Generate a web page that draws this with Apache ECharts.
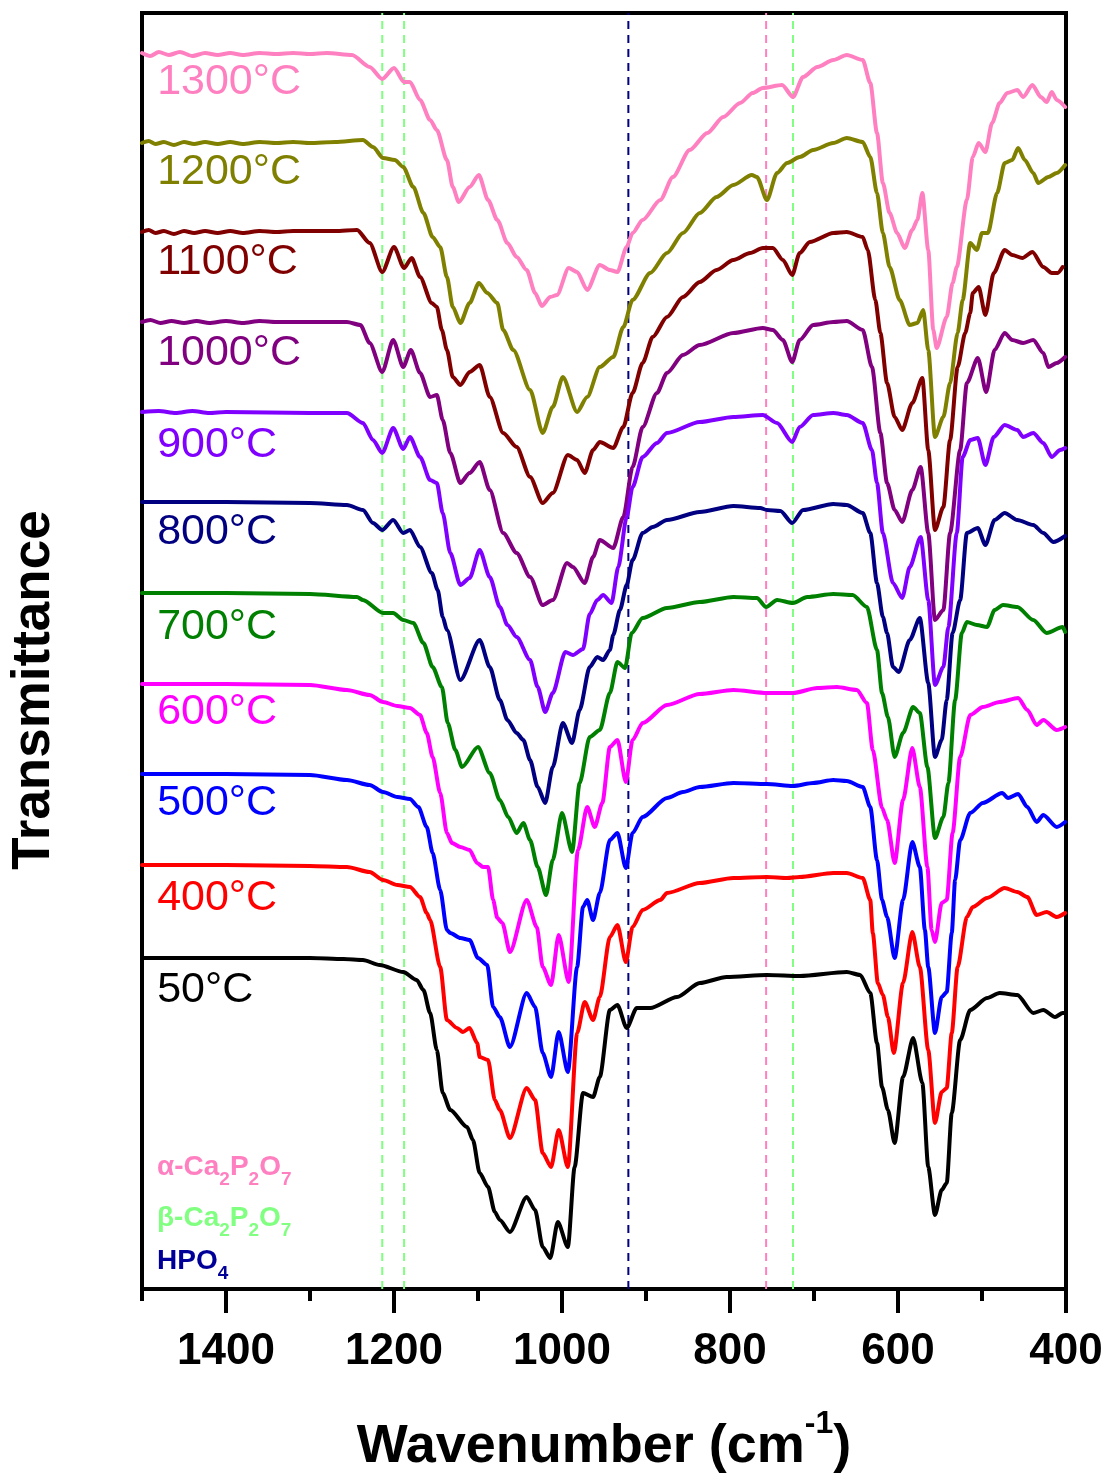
<!DOCTYPE html>
<html><head><meta charset="utf-8">
<script src="https://cdn.jsdelivr.net/npm/echarts@6/dist/echarts.min.js"></script>
<style>html,body{margin:0;padding:0;background:#fff}#c{width:1110px;height:1483px}</style>
</head><body><div id="c"></div>
<script>
// Transmittance (offset, arbitrary units) vs wavenumber (cm-1)
const s1300 = [[1500,1236],[1490,1233],[1480,1237],[1468,1234],[1455,1237],[1440,1233],[1425,1236],[1410,1234],[1395,1236],[1380,1234],[1360,1236],[1340,1235],[1320,1236],[1300,1235],[1280,1236],[1250,1234],[1229,1222],[1214,1210],[1200,1221],[1188,1207],[1181,1207],[1169,1189],[1157,1169],[1149,1159],[1137,1129],[1130,1102],[1123,1087],[1110,1102],[1099,1114],[1088,1089],[1077,1069],[1065,1046],[1054,1032],[1042,1019],[1032,996],[1024,983],[1014,992],[1006,994],[992,1021],[982,1017],[970,999],[955,1024],[943,1019],[934,1017],[923,1042],[916,1056],[904,1069],[883,1089],[868,1112],[848,1139],[827,1156],[808,1172],[788,1186],[773,1196],[761,1201],[738,1204],[725,1192],[713,1212],[696,1222],[677,1229],[661,1234],[642,1229],[633,1206],[625,1156],[618,1106],[610,1076],[601,1056],[592,1041],[583,1059],[577,1069],[571,1096],[564,1039],[558,959],[554,941],[542,972],[535,1006],[530,1022],[518,1089],[511,1132],[504,1146],[496,1137],[488,1166],[479,1186],[470,1196],[458,1199],[451,1192],[440,1204],[430,1192],[423,1187],[417,1197],[411,1189],[401,1182]];
const s1200 = [[1500,1146],[1492,1148],[1484,1145],[1474,1147],[1462,1144],[1450,1147],[1438,1145],[1425,1147],[1410,1145],[1395,1147],[1380,1145],[1360,1147],[1340,1146],[1320,1147],[1300,1146],[1270,1147],[1237,1149],[1225,1142],[1213,1131],[1199,1129],[1189,1122],[1177,1102],[1165,1076],[1154,1052],[1145,1042],[1137,1012],[1130,982],[1121,966],[1110,986],[1099,1006],[1089,996],[1077,986],[1070,959],[1058,939],[1038,899],[1023,856],[1011,882],[999,912],[982,877],[970,892],[955,922],[939,932],[927,962],[916,989],[895,1016],[875,1036],[856,1056],[836,1076],[816,1092],[796,1104],[774,1114],[768,1112],[756,1089],[744,1116],[732,1126],[717,1132],[701,1139],[677,1146],[661,1151],[642,1147],[633,1132],[625,1096],[618,1056],[610,1022],[598,989],[586,964],[577,966],[570,979],[564,939],[556,852],[546,872],[538,906],[529,956],[523,989],[514,1046],[506,1039],[500,1056],[493,1056],[482,1096],[473,1126],[464,1129],[457,1141],[449,1129],[439,1116],[433,1106],[421,1112],[411,1116],[401,1124]];
const s1100 = [[1500,1057],[1492,1059],[1484,1056],[1474,1058],[1462,1055],[1450,1058],[1438,1056],[1425,1058],[1410,1056],[1395,1058],[1380,1056],[1360,1058],[1340,1057],[1320,1058],[1300,1058],[1270,1058],[1244,1059],[1229,1046],[1214,1017],[1200,1042],[1188,1021],[1179,1031],[1169,1012],[1155,986],[1149,982],[1143,959],[1137,939],[1130,912],[1121,904],[1110,917],[1098,924],[1086,892],[1070,856],[1054,842],[1038,812],[1023,786],[1011,796],[993,834],[982,829],[973,816],[963,839],[955,847],[939,841],[927,862],[916,896],[904,926],[892,952],[875,972],[856,992],[836,1007],[816,1019],[796,1029],[776,1036],[761,1041],[749,1041],[737,1029],[726,1014],[717,1036],[705,1047],[677,1056],[661,1057],[642,1052],[636,1039],[627,989],[621,956],[613,906],[604,872],[595,859],[583,886],[571,911],[564,839],[556,759],[546,782],[538,849],[529,922],[520,956],[514,976],[511,996],[504,1002],[496,974],[486,1016],[473,1039],[464,1034],[452,1031],[440,1037],[427,1022],[417,1016],[410,1016],[404,1022]];
const s1000 = [[1500,967],[1490,969],[1478,966],[1465,968],[1450,966],[1435,968],[1420,966],[1400,968],[1380,966],[1360,968],[1340,967],[1300,967],[1256,967],[1240,964],[1229,946],[1214,917],[1201,949],[1189,922],[1180,939],[1169,916],[1157,892],[1149,894],[1142,869],[1133,836],[1121,806],[1110,816],[1098,827],[1086,799],[1070,756],[1054,736],[1038,712],[1023,684],[1011,689],[994,726],[987,722],[973,706],[963,732],[955,749],[939,741],[927,772],[916,822],[904,862],[887,896],[875,916],[856,934],[836,944],[796,956],[761,961],[749,959],[737,949],[726,927],[717,949],[701,964],[677,967],[661,968],[642,959],[631,922],[621,856],[613,806],[604,779],[595,767],[583,799],[573,822],[564,756],[556,669],[546,679],[538,756],[526,839],[518,906],[505,931],[495,897],[485,939],[473,956],[464,949],[451,946],[439,949],[427,936],[421,922],[411,926],[401,932]];
const s900 = [[1500,877],[1480,878],[1460,876],[1440,878],[1420,876],[1400,877],[1300,876],[1256,876],[1237,866],[1225,849],[1214,836],[1201,861],[1189,840],[1181,852],[1169,832],[1157,809],[1149,806],[1142,776],[1133,736],[1121,704],[1110,711],[1098,739],[1086,712],[1074,682],[1065,664],[1054,652],[1038,629],[1029,602],[1020,577],[1011,596],[996,637],[987,634],[975,640],[967,675],[958,689],[951,694],[941,686],[933,722],[923,772],[916,802],[904,832],[887,846],[875,856],[836,867],[796,872],[761,874],[744,866],[726,847],[717,862],[701,874],[677,876],[661,874],[642,866],[631,839],[625,806],[618,756],[606,706],[595,691],[586,722],[573,752],[564,689],[556,604],[546,622],[540,662],[530,756],[523,832],[514,849],[505,851],[496,824],[486,852],[473,864],[458,859],[451,852],[439,856],[427,846],[417,832],[407,839],[401,841]];
const s800 = [[1500,787],[1400,787],[1300,786],[1256,784],[1237,779],[1225,766],[1214,759],[1201,769],[1189,756],[1181,759],[1169,742],[1155,716],[1148,699],[1142,672],[1137,659],[1121,609],[1098,649],[1086,622],[1074,589],[1065,569],[1054,556],[1046,549],[1038,529],[1029,502],[1020,486],[1011,522],[999,566],[988,546],[979,579],[967,622],[958,632],[951,629],[943,639],[939,654],[931,679],[923,704],[916,729],[904,756],[892,762],[875,769],[836,777],[796,783],[764,781],[756,779],[740,778],[726,766],[713,779],[677,785],[661,784],[642,776],[633,756],[625,706],[618,672],[613,656],[606,622],[599,617],[586,649],[574,671],[564,606],[556,532],[548,549],[542,589],[535,656],[526,689],[518,756],[505,761],[496,744],[485,769],[473,776],[458,769],[439,764],[427,756],[415,747],[401,753]];
const s700 = [[1500,696],[1400,696],[1300,695],[1244,692],[1237,689],[1213,676],[1201,676],[1189,669],[1177,666],[1165,646],[1154,622],[1143,602],[1136,566],[1127,539],[1119,522],[1100,542],[1086,516],[1074,489],[1064,472],[1054,456],[1046,466],[1038,449],[1029,422],[1019,394],[1011,429],[1000,476],[988,437],[979,506],[967,552],[955,559],[943,596],[934,627],[925,621],[917,656],[904,671],[875,681],[836,687],[796,692],[768,691],[757,682],[744,689],[725,686],[708,692],[677,695],[654,694],[637,682],[625,639],[619,596],[612,572],[604,532],[594,556],[582,582],[574,576],[565,522],[556,451],[546,472],[540,506],[532,589],[524,656],[518,667],[506,664],[494,662],[485,679],[475,684],[458,682],[439,669],[423,656],[404,662],[401,657]];
const s600 = [[1500,605],[1400,605],[1300,604],[1256,599],[1229,594],[1213,587],[1196,583],[1181,581],[1169,574],[1161,556],[1154,532],[1145,496],[1137,456],[1131,446],[1121,442],[1110,439],[1101,426],[1094,422],[1088,422],[1082,389],[1077,371],[1071,366],[1062,337],[1042,389],[1030,362],[1023,322],[1013,304],[1004,354],[992,307],[981,439],[970,482],[961,462],[952,486],[943,542],[934,549],[924,507],[916,549],[904,566],[875,584],[836,595],[796,599],[756,596],[725,596],[696,601],[673,602],[649,599],[637,586],[630,539],[619,481],[613,469],[604,426],[594,489],[583,541],[574,502],[565,422],[560,359],[556,347],[548,386],[542,389],[535,456],[526,532],[514,574],[499,582],[479,587],[457,591],[446,579],[435,564],[427,569],[411,559],[401,562]];
const s500 = [[1500,515],[1400,515],[1300,514],[1256,509],[1229,504],[1213,497],[1196,492],[1181,490],[1171,482],[1161,462],[1154,436],[1145,399],[1137,359],[1133,356],[1121,351],[1110,349],[1100,331],[1089,324],[1082,282],[1074,272],[1062,242],[1042,296],[1032,282],[1023,236],[1013,212],[1004,257],[993,217],[982,322],[975,382],[970,389],[963,369],[955,396],[943,449],[934,456],[924,421],[916,456],[904,472],[875,491],[856,497],[836,502],[796,506],[756,505],[725,503],[701,506],[677,509],[661,508],[642,502],[633,482],[625,429],[619,389],[613,372],[604,331],[594,389],[583,447],[574,422],[568,359],[564,322],[556,256],[548,292],[542,297],[536,356],[532,409],[526,449],[514,476],[499,486],[476,496],[469,491],[457,495],[446,482],[435,467],[427,474],[411,462],[401,467]];
const s400 = [[1500,424],[1400,424],[1300,423],[1256,422],[1229,417],[1213,409],[1196,404],[1181,402],[1169,392],[1161,376],[1157,369],[1145,322],[1137,269],[1125,261],[1118,257],[1110,261],[1101,246],[1098,232],[1088,229],[1080,189],[1074,179],[1062,151],[1042,201],[1032,189],[1023,136],[1013,122],[1004,159],[993,122],[982,256],[973,287],[963,269],[955,292],[943,352],[934,364],[924,327],[916,362],[904,379],[883,389],[875,396],[836,406],[796,411],[756,412],[732,411],[717,412],[677,416],[661,416],[642,411],[633,389],[630,356],[624,306],[618,294],[612,272],[605,236],[594,306],[583,357],[574,322],[564,239],[556,166],[548,197],[542,201],[536,256],[529,322],[518,372],[511,382],[494,391],[473,401],[458,397],[446,392],[435,374],[423,377],[411,372],[401,376]];
const s50 = [[1500,331],[1400,331],[1300,331],[1260,330],[1237,329],[1217,324],[1189,317],[1173,309],[1165,299],[1157,276],[1149,239],[1142,196],[1133,179],[1113,162],[1106,149],[1098,116],[1088,102],[1080,77],[1074,69],[1062,57],[1042,92],[1032,79],[1023,42],[1014,31],[1005,67],[993,42],[985,122],[975,196],[963,192],[955,212],[943,279],[934,284],[923,261],[911,281],[895,281],[863,292],[836,306],[804,312],[756,314],[717,313],[661,317],[645,314],[633,296],[625,246],[619,202],[612,179],[604,146],[594,212],[582,251],[571,206],[564,122],[556,74],[548,99],[542,106],[536,176],[526,249],[514,279],[494,291],[479,296],[458,294],[439,276],[427,279],[413,272],[404,276],[400,276]];

const seriesNames = ['1300°C','1200°C','1100°C','1000°C','900°C','800°C','700°C','600°C','500°C','400°C','50°C'];
const seriesColors = ['#ff80c0','#808000','#800000','#800080','#8000ff','#000080','#008000','#ff00ff','#0000ff','#ff0000','#000000'];
const labelWavenumber = 1482;
const labelLevels = [1207,1117,1027,936,844,757,662,577,486,391,299];
const markerWavenumbers = [1214, 1188, 921, 757, 725];
const markerColors = ['#80ff80','#80ff80','#000080','#ff80c0','#80ff80'];
const majorTicks = [1400,1200,1000,800,600,400];
const minorTicks = [1500,1300,1100,900,700,500];
const yMax = 1276;

const spectra = [s1300,s1200,s1100,s1000,s900,s800,s700,s600,s500,s400,s50];
const FONT = '"Liberation Sans", Arial, sans-serif';

const chart = echarts.init(document.getElementById('c'), null, {renderer:'canvas'});
const series = [];
markerWavenumbers.forEach((w,i)=>{
  series.push({type:'line', data:[[w,0],[w,yMax]], showSymbol:false, symbol:'none', silent:true,
    lineStyle:{color:markerColors[i], width:2, type:[8,6]}, xAxisIndex:0, yAxisIndex:0});
});
spectra.forEach((d,i)=>{
  series.push({type:'line', name:seriesNames[i], data:d, showSymbol:false, symbol:'none', silent:true,
    smooth:0.25, smoothMonotone:'x',
    lineStyle:{color:seriesColors[i], width:4, join:'round', cap:'round'}, xAxisIndex:0, yAxisIndex:0});
});
series.push({type:'scatter', silent:true, symbolSize:0.01, itemStyle:{color:'rgba(0,0,0,0)', opacity:1},
  data: labelLevels.map((y,i)=>({value:[labelWavenumber,y], label:{color:seriesColors[i]}})),
  label:{show:true, position:'right', distance:0, formatter:p=>seriesNames[p.dataIndex], opacity:1,
    fontSize:43, fontFamily:FONT, fontWeight:'normal', align:'left', verticalAlign:'middle'},
  xAxisIndex:0, yAxisIndex:0});

const subRich = (color)=>({
  a:{fontSize:28, fontWeight:'bold', fontFamily:FONT, fill:color, lineHeight:45},
  s:{fontSize:19, fontWeight:'bold', fontFamily:FONT, fill:color, lineHeight:18, verticalAlign:'bottom'}
});

chart.setOption({
  animation:false,
  backgroundColor:'#fff',
  grid:[
    {left:142, right:44, top:13, bottom:194, show:true, borderColor:'#000', borderWidth:4, backgroundColor:'rgba(0,0,0,0)'},
    {left:142, right:44, top:13, bottom:194, show:false}
  ],
  xAxis:[
    {type:'value', gridIndex:0, min:400, max:1500, interval:100, inverse:true, position:'bottom',
      axisLine:{show:true, onZero:false, lineStyle:{color:'#000', width:4}},
      axisTick:{show:true, inside:false, length:24, customValues:majorTicks, lineStyle:{color:'#000', width:4}},
      axisLabel:{show:true, customValues:majorTicks, margin:41, fontSize:44, fontWeight:'bold', fontFamily:FONT, color:'#000',
        formatter:v=>String(v)},
      splitLine:{show:false}, minorTick:{show:false}},
    {type:'value', gridIndex:1, min:400, max:1500, interval:100, inverse:true, position:'bottom',
      axisLine:{show:false, onZero:false},
      axisTick:{show:true, inside:false, length:12, customValues:minorTicks, lineStyle:{color:'#000', width:4}},
      axisLabel:{show:false}, splitLine:{show:false}}
  ],
  yAxis:[
    {type:'value', gridIndex:0, min:0, max:yMax, axisLine:{show:true, lineStyle:{color:'#000', width:4}},
      axisTick:{show:false}, axisLabel:{show:false}, splitLine:{show:false}},
    {type:'value', gridIndex:1, min:0, max:yMax, show:false}
  ],
  series: series,
  graphic:[
    {type:'text', x:34, y:690, rotation:Math.PI/2, silent:true,
      style:{text:'Transmittance', font:'bold 53px '+FONT, fill:'#000', align:'center', verticalAlign:'middle'}},
    {type:'text', x:604, y:1447, silent:true,
      style:{text:'{a|Wavenumber (cm}{s|-1}{a|)}', align:'center', verticalAlign:'middle',
        rich:{a:{fontSize:54, fontWeight:'bold', fontFamily:FONT, fill:'#000', lineHeight:78},
              s:{fontSize:32, fontWeight:'bold', fontFamily:FONT, fill:'#000', lineHeight:32, verticalAlign:'top'}}}},
    {type:'text', x:157, y:1167, silent:true,
      style:{text:'{a|α-Ca}{s|2}{a|P}{s|2}{a|O}{s|7}', align:'left', verticalAlign:'middle', rich:subRich('#ff80c0')}},
    {type:'text', x:157, y:1218, silent:true,
      style:{text:'{a|β-Ca}{s|2}{a|P}{s|2}{a|O}{s|7}', align:'left', verticalAlign:'middle', rich:subRich('#80ff80')}},
    {type:'text', x:157, y:1261, silent:true,
      style:{text:'{a|HPO}{s|4}', align:'left', verticalAlign:'middle', rich:subRich('#000099')}}
  ]
});
</script>
</body></html>
